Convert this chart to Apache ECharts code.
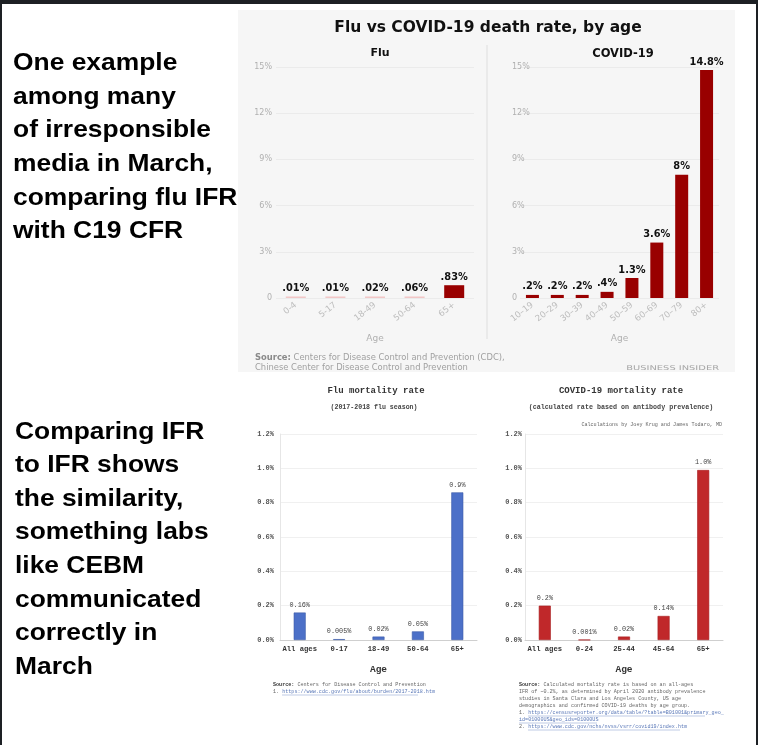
<!DOCTYPE html>
<html>
<head>
<meta charset="utf-8">
<script src="https://cdn.jsdelivr.net/npm/echarts@6/dist/echarts.min.js"></script>
<style>
html,body{margin:0;padding:0;background:#fff;}
#c{width:758px;height:745px;}
</style>
</head>
<body>
<div id="c"></div>
<script>
// ---- data ----
const fluTopCats = ['0-4','5-17','18-49','50-64','65+'];
const fluTopVals = [0.01,0.01,0.02,0.06,0.83];
const fluTopLabels = ['.01%','.01%','.02%','.06%','.83%'];

const covTopCats = ['10–19','20–29','30–39','40–49','50–59','60–69','70–79','80+'];
const covTopVals = [0.2,0.2,0.2,0.4,1.3,3.6,8,14.8];
const covTopLabels = ['.2%','.2%','.2%','.4%','1.3%','3.6%','8%','14.8%'];

const fluBotCats = ['All ages','0-17','18-49','50-64','65+'];
const fluBotVals = [0.16,0.005,0.02,0.05,0.86];
const fluBotLabels = ['0.16%','0.005%','0.02%','0.05%','0.9%'];

const covBotCats = ['All ages','0-24','25-44','45-64','65+'];
const covBotVals = [0.2,0.001,0.02,0.14,0.99];
const covBotLabels = ['0.2%','0.001%','0.02%','0.14%','1.0%'];

const topTicks = {min:0,max:15,interval:3};
const botTicks = {min:0,max:1.2,interval:0.2};

const leftTextTop = ['One example','among many','of irresponsible','media in March,','comparing flu IFR','with C19 CFR'];
const leftTextBot = ['Comparing IFR','to IFR shows','the similarity,','something labs','like CEBM','communicated','correctly in','March'];

const covSource = [
  'IFR of ~0.2%, as determined by April 2020 antibody prevalence',
  'studies in Santa Clara and Los Angeles County, US age',
  'demographics and confirmed COVID-19 deaths by age group.'
];

// ---- chart ----
const chart = echarts.init(document.getElementById('c'), null, {renderer:'canvas'});
const BI = 'DejaVu Sans';
const MONO = 'Liberation Mono';

function topX(idx, cats){
  return {
    type:'category', gridIndex:idx, data:cats,
    axisLine:{show:false}, axisTick:{show:false},
    axisLabel:{rotate:38, fontFamily:BI, fontSize:8.6, color:'#bdbdbd', margin:6, interval:0},
    name:'Age', nameLocation:'middle', nameGap:36,
    nameTextStyle:{fontFamily:BI, fontSize:9, color:'#b0b0b0'}
  };
}
function topY(idx, align, margin){
  return {
    type:'value', gridIndex:idx, min:topTicks.min, max:topTicks.max, interval:topTicks.interval,
    axisLine:{show:false}, axisTick:{show:false},
    splitLine:{lineStyle:{color:'#e9e9e9', width:0.8}},
    axisLabel:{fontFamily:BI, fontSize:8, color:'#b0b0b0', align:align, margin:margin,
      formatter:v => v === 0 ? '0' : v + '%'}
  };
}
function botX(idx, cats){
  return {
    type:'category', gridIndex:idx, data:cats,
    axisLine:{lineStyle:{color:'#cfcfcf'}}, axisTick:{show:false},
    axisLabel:{fontFamily:MONO, fontWeight:'bold', fontSize:7.2, color:'#333', margin:6, interval:0},
    name:'Age', nameLocation:'middle', nameGap:25,
    nameTextStyle:{fontFamily:MONO, fontWeight:'bold', fontSize:9.5, color:'#333'}
  };
}
function botY(idx, margin){
  return {
    type:'value', gridIndex:idx, min:botTicks.min, max:botTicks.max, interval:botTicks.interval,
    axisLine:{show:true, lineStyle:{color:'#e6e6e6'}}, axisTick:{show:false},
    splitLine:{lineStyle:{color:'#ececec', width:0.8}},
    axisLabel:{fontFamily:MONO, fontWeight:'bold', fontSize:7, color:'#555', margin:margin,
      formatter:v => v.toFixed(1) + '%'}
  };
}

const topLabel = labels => ({
  show:true, position:'top', distance:3, fontFamily:BI, fontWeight:'bold', fontSize:9.8, color:'#111',
  formatter:p => labels[p.dataIndex]
});
const botLabel = labels => ({
  show:true, position:'top', distance:4, fontFamily:MONO, fontSize:6.8, color:'#444',
  formatter:p => labels[p.dataIndex]
});

const graphics = [
  // top panel background
  {type:'rect', shape:{x:238, y:10, width:497, height:362}, style:{fill:'#f6f6f6'}, z:-10},
  // divider
  {type:'line', shape:{x1:487, y1:45, x2:487, y2:339}, style:{stroke:'#dedede', lineWidth:1}, z:-5},
  // frame
  {type:'rect', shape:{x:0, y:0, width:758, height:4}, style:{fill:'#1d2024'}},
  {type:'rect', shape:{x:0, y:0, width:2, height:745}, style:{fill:'#1d2024'}},
  {type:'rect', shape:{x:756, y:0, width:2, height:745}, style:{fill:'#1d2024'}},
  // top title
  {type:'text', x:488, y:28, style:{text:'Flu vs COVID-19 death rate, by age', fontFamily:BI, fontWeight:'bold',
    fontSize:15.5, fill:'#111', textAlign:'center', textVerticalAlign:'middle'}},
  // top source
  {type:'text', x:255, y:358, style:{text:'{b|Source:} Centers for Disease Control and Prevention (CDC),',
    fontFamily:BI, fontSize:8.4, fill:'#a0a0a0', textVerticalAlign:'middle',
    rich:{b:{fontFamily:BI, fontSize:8.4, fontWeight:'bold', fill:'#8a8a8a'}}}},
  {type:'text', x:255, y:368, style:{text:'Chinese Center for Disease Control and Prevention',
    fontFamily:BI, fontSize:8.4, fill:'#a0a0a0', textVerticalAlign:'middle'}},
  {type:'text', x:719, y:368, scaleX:1.52, originX:0, originY:0, style:{text:'BUSINESS INSIDER', fontFamily:BI, fontSize:6.5,
    fill:'#a5a5a5', textAlign:'right', textVerticalAlign:'middle'}},
  // bottom titles
  {type:'text', x:376, y:391, style:{text:'Flu mortality rate', fontFamily:MONO, fontWeight:'bold', fontSize:9,
    fill:'#333', textAlign:'center', textVerticalAlign:'middle'}},
  {type:'text', x:374, y:407, style:{text:'(2017-2018 flu season)', fontFamily:MONO, fontWeight:'bold', fontSize:6.6,
    fill:'#444', textAlign:'center', textVerticalAlign:'middle'}},
  {type:'text', x:621, y:391, style:{text:'COVID-19 mortality rate', fontFamily:MONO, fontWeight:'bold', fontSize:9,
    fill:'#333', textAlign:'center', textVerticalAlign:'middle'}},
  {type:'text', x:621, y:407, style:{text:'(calculated rate based on antibody prevalence)', fontFamily:MONO, fontWeight:'bold', fontSize:6.7,
    fill:'#444', textAlign:'center', textVerticalAlign:'middle'}},
  {type:'text', x:722, y:425, style:{text:'Calculations by Joey Krug and James Todaro, MD', fontFamily:MONO, fontSize:5.1,
    fill:'#666', textAlign:'right', textVerticalAlign:'middle'}},
  // bottom-left source
  {type:'text', x:273, y:685, style:{text:'{b|Source:} Centers for Disease Control and Prevention', fontFamily:MONO, fontSize:5.1,
    fill:'#666', textVerticalAlign:'middle', rich:{b:{fontFamily:MONO, fontSize:5.1, fontWeight:'bold', fill:'#333'}}}},
  {type:'text', x:273, y:692, style:{text:'1. {u|https://www.cdc.gov/flu/about/burden/2017-2018.htm}', fontFamily:MONO, fontSize:5.1,
    fill:'#666', textVerticalAlign:'middle', rich:{u:{fontFamily:MONO, fontSize:5.1, fill:'#5a78b8'}}}},
  {type:'line', shape:{x1:282, y1:695, x2:418, y2:695}, style:{stroke:'#7d94c8', lineWidth:0.5}},
  // bottom-right source
  {type:'text', x:519, y:685, style:{text:'{b|Source:} Calculated mortality rate is based on an all-ages', fontFamily:MONO, fontSize:5.1,
    fill:'#666', textVerticalAlign:'middle', rich:{b:{fontFamily:MONO, fontSize:5.1, fontWeight:'bold', fill:'#333'}}}},
  ...covSource.map((t,i) => ({type:'text', x:519, y:692 + i*7, style:{text:t, fontFamily:MONO, fontSize:5.1,
    fill:'#666', textVerticalAlign:'middle'}})),
  {type:'text', x:519, y:713, style:{text:'1. {u|https://censusreporter.org/data/table/?table=B01001&primary_geo_}', fontFamily:MONO, fontSize:5.1,
    fill:'#666', textVerticalAlign:'middle', rich:{u:{fontFamily:MONO, fontSize:5.1, fill:'#5a78b8'}}}},
  {type:'text', x:519, y:720, style:{text:'{u|id=01000US&geo_ids=01000US}', fontFamily:MONO, fontSize:5.1,
    fill:'#666', textVerticalAlign:'middle', rich:{u:{fontFamily:MONO, fontSize:5.1, fill:'#5a78b8'}}}},
  {type:'text', x:519, y:727, style:{text:'2. {u|https://www.cdc.gov/nchs/nvss/vsrr/covid19/index.htm}', fontFamily:MONO, fontSize:5.1,
    fill:'#666', textVerticalAlign:'middle', rich:{u:{fontFamily:MONO, fontSize:5.1, fill:'#5a78b8'}}}},
  {type:'line', shape:{x1:528, y1:716, x2:705, y2:716}, style:{stroke:'#7d94c8', lineWidth:0.5}},
  {type:'line', shape:{x1:519, y1:723, x2:597, y2:723}, style:{stroke:'#7d94c8', lineWidth:0.5}},
  {type:'line', shape:{x1:528, y1:730, x2:680, y2:730}, style:{stroke:'#7d94c8', lineWidth:0.5}},
  // left texts
  ...leftTextTop.map((t,i) => ({type:'text', x:13, y:63.5 + i*33.6, scaleX:1.1, originX:0, originY:0,
    style:{text:t, fontFamily:'Liberation Sans', fontWeight:'bold', fontSize:24, fill:'#000', textVerticalAlign:'middle'}})),
  ...leftTextBot.map((t,i) => ({type:'text', x:15, y:432 + i*33.6, scaleX:1.1, originX:0, originY:0,
    style:{text:t, fontFamily:'Liberation Sans', fontWeight:'bold', fontSize:24, fill:'#000', textVerticalAlign:'middle'}}))
];

const option = {
  animation:false,
  backgroundColor:'#ffffff',
  title:[
    {text:'Flu', left:375, top:43, textAlign:'center', textStyle:{fontFamily:BI, fontWeight:'bold', fontSize:11, color:'#111'}},
    {text:'COVID-19', left:618, top:43, textAlign:'center', textStyle:{fontFamily:BI, fontWeight:'bold', fontSize:11.5, color:'#111'}}
  ],
  grid:[
    {left:276, top:67, width:198, height:231},
    {left:520, top:67, width:199, height:231},
    {left:280, top:434, width:197, height:206},
    {left:525, top:434, width:198, height:206}
  ],
  xAxis:[ topX(0, fluTopCats), topX(1, covTopCats), botX(2, fluBotCats), botX(3, covBotCats) ],
  yAxis:[ topY(0, 'right', 4), topY(1, 'left', 8), botY(2, 6), botY(3, 3) ],
  series:[
    {type:'bar', xAxisIndex:0, yAxisIndex:0, data:fluTopVals, barWidth:20, barMinHeight:1.5,
      itemStyle:{color:p => p.value < 0.1 ? '#f2c6c6' : '#990000'}, label:topLabel(fluTopLabels)},
    {type:'bar', xAxisIndex:1, yAxisIndex:1, data:covTopVals, barWidth:13,
      itemStyle:{color:'#990000'}, label:topLabel(covTopLabels)},
    {type:'bar', xAxisIndex:2, yAxisIndex:2, data:fluBotVals, barWidth:12,
      itemStyle:{color:'#4c70c8', borderColor:'#3d5ca8', borderWidth:0.6}, label:botLabel(fluBotLabels)},
    {type:'bar', xAxisIndex:3, yAxisIndex:3, data:covBotVals, barWidth:12,
      itemStyle:{color:'#c0282a', borderColor:'#a81f20', borderWidth:0.6}, label:botLabel(covBotLabels)}
  ],
  graphic:graphics
};
chart.setOption(option);
</script>
</body>
</html>
